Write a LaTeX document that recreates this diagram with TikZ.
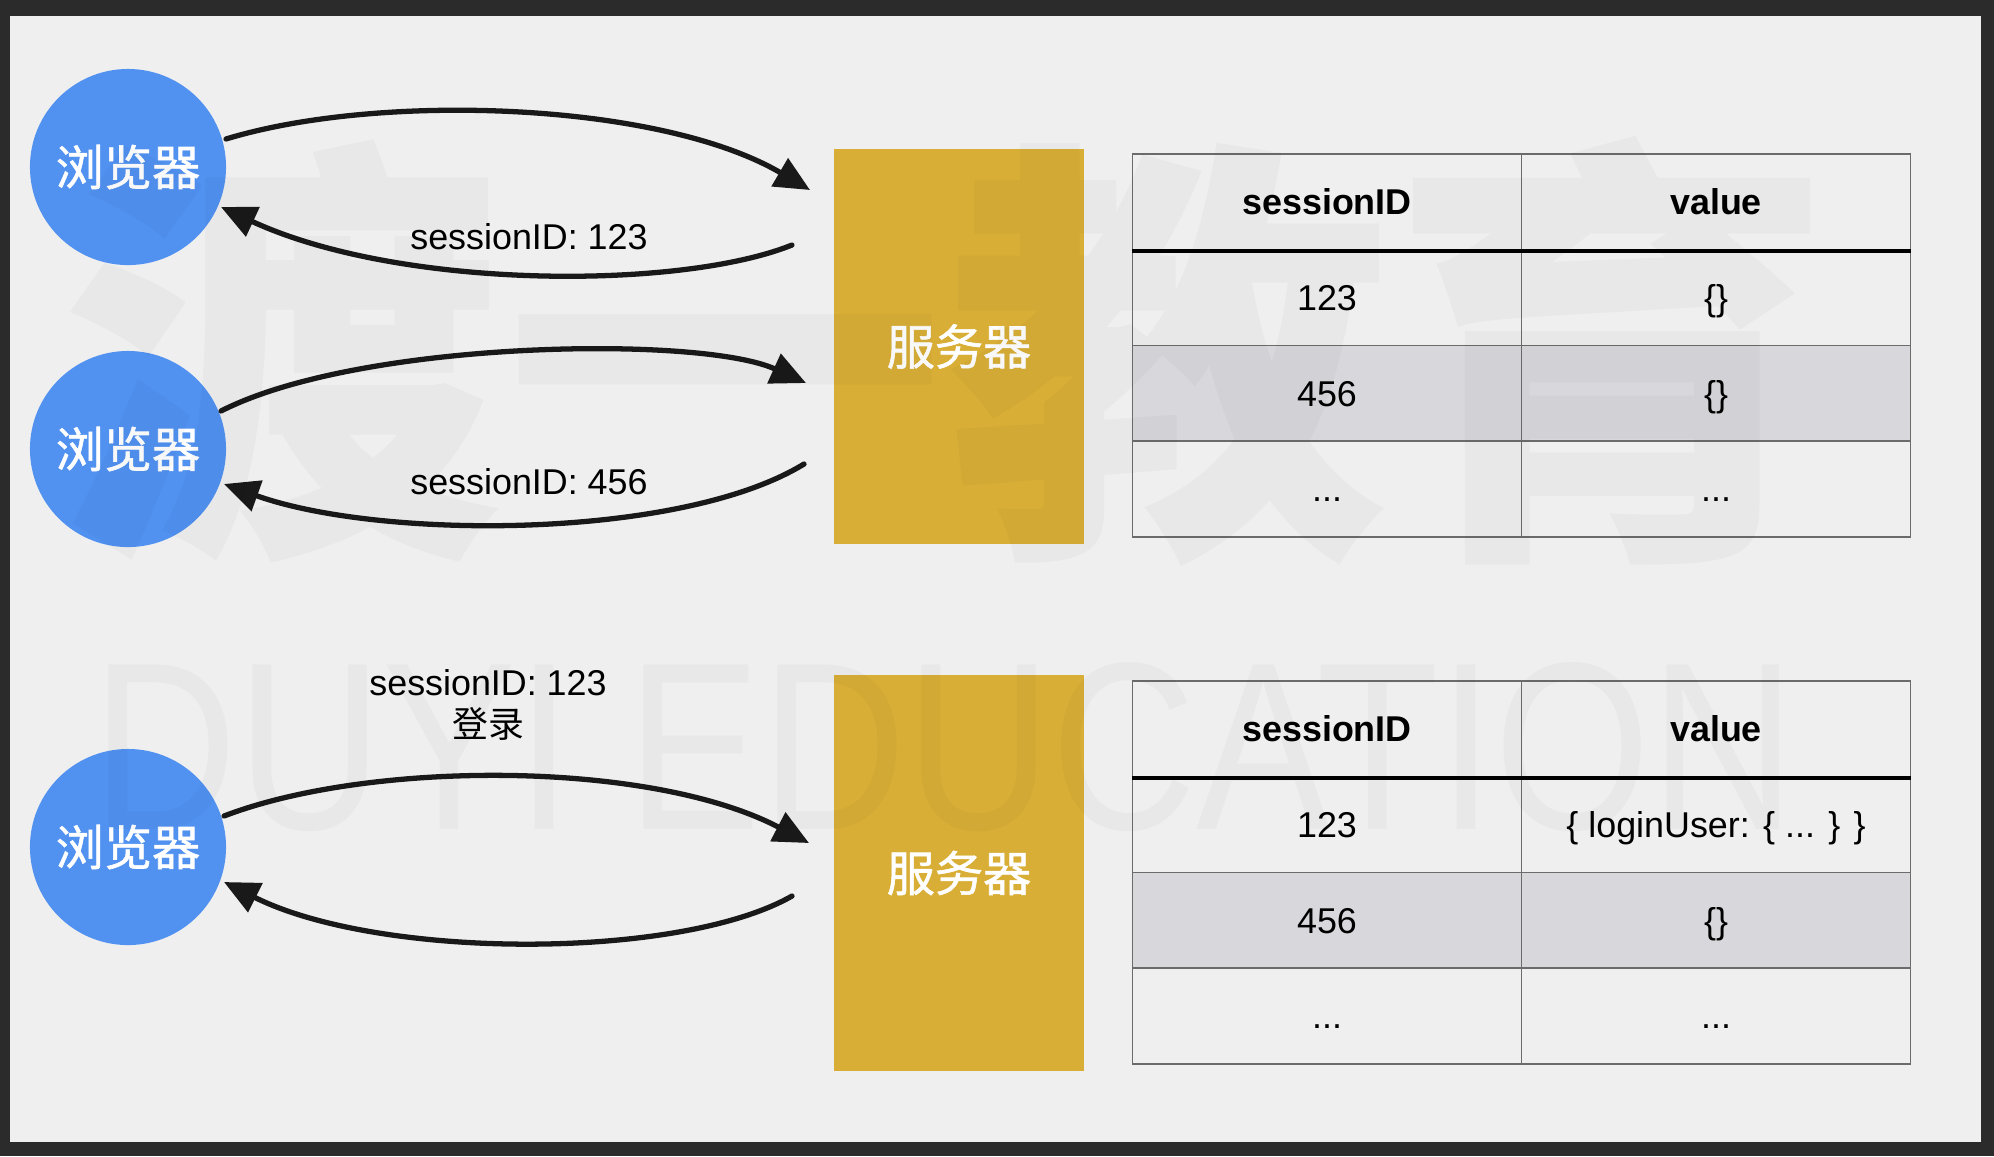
\documentclass[tikz,border=0pt]{standalone}
\usepackage{fontspec}
\setmainfont{Liberation Sans}
\newfontfamily\cjk{Noto Sans CJK SC}
\newfontfamily\cjkmed[FakeBold=1.2]{Noto Sans CJK SC}
\usetikzlibrary{arrows.meta}
\definecolor{slidebg}{HTML}{EFEFEF}
\definecolor{framebg}{HTML}{2B2B2B}
\definecolor{browserblue}{HTML}{5192F1}
\definecolor{servergold}{HTML}{D8AE36}
\definecolor{rowgray}{HTML}{D8D7DC}
\definecolor{gridgray}{HTML}{6B6B6B}
\tikzset{
  browser/.style={circle, fill=browserblue, minimum size=1.96cm, inner sep=0pt,
    text=white, font=\cjkmed\fontsize{13.7pt}{16pt}\selectfont},
  server/.style={rectangle, fill=servergold, minimum width=2.495cm, minimum height=3.95cm,
    inner sep=0pt, text=white, font=\cjkmed\fontsize{13.7pt}{16pt}\selectfont},
  cell/.style={rectangle, draw=gridgray, line width=0.45pt, minimum width=3.89cm,
    minimum height=0.9575cm, inner sep=0pt, text height=7.3pt, text depth=0pt,
    font=\fontsize{10.2pt}{12pt}\selectfont},
  headcell/.style={cell, font=\bfseries\fontsize{10.2pt}{12pt}\selectfont},
  shaded/.style={fill=rowgray},
  lbl/.style={font=\fontsize{10.2pt}{11.7pt}\selectfont, inner sep=0pt},
  sketch/.style={line width=1.5pt, black!90, line cap=round, -{Triangle[length=10pt,width=9pt]}},
  wmark/.style={text=black, opacity=0.028, inner sep=0pt}
}
\begin{document}
\begin{tikzpicture}[x=0.01cm,y=-0.01cm]
\useasboundingbox (0,0) rectangle (1994,1156);
\fill[framebg] (0,0) rectangle (1994,1156);
\fill[slidebg] (10,16) rectangle (1981,1142);

% browsers
\node[browser] (b1) at (128,167) {浏览器};
\node[browser] (b2) at (128,449) {浏览器};
\node[browser] (b3) at (128,847) {浏览器};

% servers
\node[server] (s1) at (959,346.5) {服务器};
\node[server] (s2) at (959,873) {服务器};

% table 1
\node[headcell] (t1h1) at (1327,201.9) {sessionID};
\node[headcell] (t1h2) at (1716,201.9) {value};
\node[cell] (t1a1) at (1327,297.6) {123};
\node[cell] (t1a2) at (1716,297.6) {\{\}};
\node[cell,shaded] (t1b1) at (1327,393.4) {456};
\node[cell,shaded] (t1b2) at (1716,393.4) {\{\}};
\node[cell] (t1c1) at (1327,489.1) {...};
\node[cell] (t1c2) at (1716,489.1) {...};
\draw[line width=1.2pt] (t1h1.south west) -- (t1h2.south east);

% table 2
\node[headcell] (t2h1) at (1327,728.9) {sessionID};
\node[headcell] (t2h2) at (1716,728.9) {value};
\node[cell] (t2a1) at (1327,824.6) {123};
\node[cell] (t2a2) at (1716,824.6) {\{ loginUser: \{ ... \} \}};
\node[cell,shaded] (t2b1) at (1327,920.4) {456};
\node[cell,shaded] (t2b2) at (1716,920.4) {\{\}};
\node[cell] (t2c1) at (1327,1016.1) {...};
\node[cell] (t2c2) at (1716,1016.1) {...};
\draw[line width=1.2pt] (t2h1.south west) -- (t2h2.south east);

% arrow end points
\coordinate (a1s) at (226,139);
\coordinate (a1e) at (810,190);
\coordinate (a2s) at (792,245);
\coordinate (a2e) at (221,207);
\coordinate (a3s) at (221,411);
\coordinate (a3e) at (806,383);
\coordinate (a4s) at (804,464);
\coordinate (a4e) at (224,484);
\coordinate (a5s) at (224,816);
\coordinate (a5e) at (809,843);
\coordinate (a6s) at (792,896);
\coordinate (a6e) at (224,882);

\draw[sketch] (a1s) .. controls (380,92) and (660,102) .. (a1e);
\draw[sketch] (a2s) .. controls (680,290) and (400,290) .. (a2e);
\draw[sketch] (a3s) .. controls (360,340) and (700,335) .. (a3e);
\draw[sketch] (a4s) .. controls (680,540) and (380,540) .. (a4e);
\draw[sketch] (a5s) .. controls (370,760) and (650,760) .. (a5e);
\draw[sketch] (a6s) .. controls (680,960) and (380,960) .. (a6e);

% labels
\node[lbl] (l1) at (529,237) {sessionID: 123};
\node[lbl] (l2) at (529,482) {sessionID: 456};
\node[lbl, align=center] (l3) at (488,705) {sessionID: 123\\{\cjk 登录}};

% watermark
\node[wmark, anchor=base, font=\cjk\bfseries\fontsize{126pt}{126pt}\selectfont] (wm1) at (947,522) {渡一教育};
\node[wmark, xscale=0.84, font=\fontsize{68pt}{68pt}\selectfont] (wm2) at (944,747) {DUYI EDUCATION};
\end{tikzpicture}
\end{document}
